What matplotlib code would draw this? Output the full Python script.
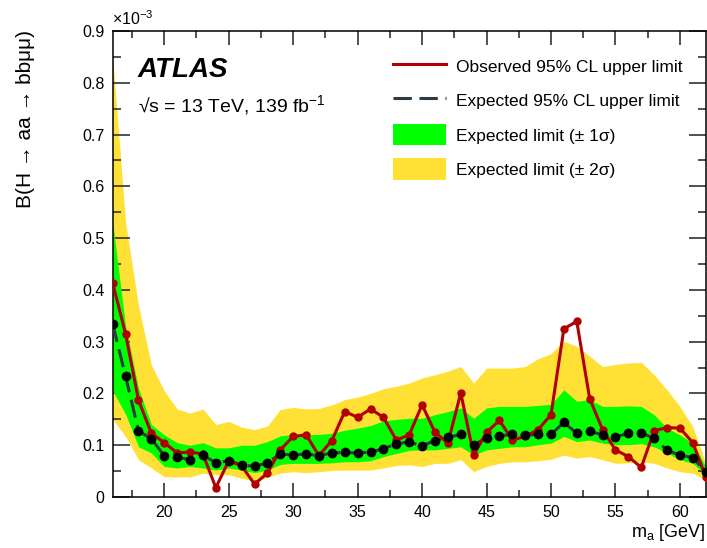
import numpy as np
import matplotlib
matplotlib.use('Agg')
import matplotlib.pyplot as plt
from matplotlib import ticker
from matplotlib.lines import Line2D
from matplotlib.patches import Patch

plt.rcParams['font.family'] = ['Liberation Sans', 'DejaVu Sans']
plt.rcParams['mathtext.fontset'] = 'custom'
plt.rcParams['mathtext.rm'] = 'Liberation Sans'
plt.rcParams['mathtext.it'] = 'Liberation Sans:italic'
plt.rcParams['mathtext.bf'] = 'Liberation Sans:bold'

# m_a [GeV], limits in units of 1e-3
mass = np.arange(16, 63)
obs = [0.413, 0.315, 0.187, 0.123, 0.105, 0.085, 0.087, 0.083, 0.018, 0.070,
       0.060, 0.025, 0.046, 0.091, 0.117, 0.120, 0.080, 0.109, 0.165, 0.154,
       0.170, 0.154, 0.110, 0.120, 0.178, 0.125, 0.104, 0.201, 0.081, 0.125,
       0.148, 0.110, 0.117, 0.130, 0.159, 0.325, 0.339, 0.190, 0.130, 0.091,
       0.078, 0.057, 0.128, 0.134, 0.133, 0.105, 0.039]
exp = [0.334, 0.233, 0.128, 0.112, 0.080, 0.077, 0.072, 0.081, 0.066, 0.070,
       0.062, 0.059, 0.066, 0.083, 0.081, 0.083, 0.080, 0.085, 0.086, 0.085,
       0.087, 0.093, 0.103, 0.106, 0.099, 0.109, 0.115, 0.121, 0.101, 0.114,
       0.118, 0.121, 0.119, 0.121, 0.121, 0.144, 0.123, 0.127, 0.120, 0.116,
       0.123, 0.123, 0.114, 0.090, 0.081, 0.076, 0.049]
up1 = [0.53, 0.33, 0.21, 0.14, 0.12, 0.105, 0.100, 0.105, 0.095, 0.095,
       0.100, 0.100, 0.107, 0.118, 0.121, 0.120, 0.121, 0.123, 0.129, 0.133,
       0.138, 0.147, 0.150, 0.152, 0.152, 0.159, 0.165, 0.172, 0.152, 0.172,
       0.175, 0.175, 0.175, 0.177, 0.179, 0.207, 0.185, 0.188, 0.175, 0.175,
       0.176, 0.175, 0.159, 0.133, 0.120, 0.104, 0.059]
dn1 = [0.205, 0.16, 0.097, 0.085, 0.059, 0.056, 0.059, 0.056, 0.052, 0.056,
       0.052, 0.047, 0.052, 0.063, 0.065, 0.065, 0.065, 0.066, 0.068, 0.068,
       0.070, 0.078, 0.084, 0.090, 0.091, 0.091, 0.094, 0.097, 0.081, 0.091,
       0.094, 0.097, 0.097, 0.101, 0.104, 0.117, 0.107, 0.110, 0.104, 0.101,
       0.101, 0.103, 0.097, 0.085, 0.072, 0.065, 0.043]
up2 = [0.85, 0.53, 0.37, 0.255, 0.205, 0.17, 0.162, 0.17, 0.14, 0.146,
       0.135, 0.130, 0.137, 0.169, 0.173, 0.170, 0.171, 0.178, 0.188, 0.193,
       0.200, 0.209, 0.214, 0.220, 0.230, 0.236, 0.243, 0.252, 0.220, 0.249,
       0.249, 0.249, 0.252, 0.267, 0.277, 0.301, 0.291, 0.272, 0.252, 0.256,
       0.259, 0.260, 0.236, 0.207, 0.175, 0.136, 0.065]
dn2 = [0.15, 0.117, 0.072, 0.056, 0.039, 0.039, 0.039, 0.046, 0.043, 0.043,
       0.036, 0.031, 0.038, 0.046, 0.049, 0.047, 0.049, 0.051, 0.052, 0.052,
       0.052, 0.056, 0.061, 0.062, 0.059, 0.065, 0.065, 0.072, 0.049, 0.059,
       0.065, 0.068, 0.068, 0.070, 0.073, 0.081, 0.075, 0.078, 0.072, 0.065,
       0.066, 0.068, 0.065, 0.056, 0.049, 0.046, 0.033]

W, H = 707., 548.
fig = plt.figure(figsize=(W/100, H/100), dpi=100)
ax = fig.add_axes([112.7/W, 51/H, 593/W, 466/H])

yellow = '#FFE135'
green = '#00FF00'
red = '#B00000'
slate = '#2E3B42'

ax.fill_between(mass, dn2, up2, color=yellow, lw=0, zorder=1)
ax.fill_between(mass, dn1, up1, color=green, lw=0, zorder=2)
ax.plot(mass, exp, color=slate, lw=2.2, dashes=(6, 2.5), zorder=3)
ax.plot(mass, obs, color=red, lw=2.2, zorder=4)
ax.plot(mass, obs, 'o', color=red, ms=5.0, zorder=5)
ax.plot(mass, exp, 'o', color='black', ms=6.0, zorder=6)

ax.set_xlim(16, 62)
ax.set_ylim(0, 0.9)
ax.xaxis.set_major_locator(ticker.MultipleLocator(5))
ax.xaxis.set_minor_locator(ticker.MultipleLocator(2.5))
ax.yaxis.set_major_locator(ticker.MultipleLocator(0.1))
ax.yaxis.set_minor_locator(ticker.MultipleLocator(0.05))
ax.yaxis.set_major_formatter(ticker.FuncFormatter(lambda v, p: '0' if abs(v) < 1e-9 else '%.1f' % v))
ax.xaxis.set_major_formatter(ticker.FuncFormatter(lambda v, p: '%d' % v))
ax.tick_params(which='both', direction='in', top=True, right=True, color='#222222', width=1.1)
ax.tick_params(axis='x', which='major', length=10, pad=5.5, labelsize=11.5)
ax.tick_params(axis='x', which='minor', length=5)
ax.tick_params(axis='y', which='major', length=12, pad=6, labelsize=11.5)
ax.tick_params(axis='y', which='minor', length=6)
for s in ax.spines.values():
    s.set_linewidth(1.1)

fig.text(112/W, 1-25/H, r'$\times$10$^{-3}$', fontsize=11.5, ha='left', va='baseline')
fig.text(705/W, 1-537/H, r'm$_{\mathrm{a}}$ [GeV]', fontsize=13, ha='right', va='baseline')
fig.text(26/W, 1-30/H, 'B(H \u2192 aa \u2192 bb\u03bc\u03bc)', fontsize=15, rotation=90,
         ha='center', va='top')

fig.text(138/W, 1-76.7/H, 'ATLAS', fontsize=20, fontweight='bold', fontstyle='italic',
         ha='left', va='baseline')
fig.text(138/W, 1-111.7/H, '\u221as = 13 TeV, 139 fb$^{-1}$', fontsize=14, ha='left', va='baseline')

handles = [Line2D([], [], color=red, lw=2.2),
           Line2D([], [], color=slate, lw=2.2, dashes=(6, 2.5)),
           Patch(facecolor=green, edgecolor='none'),
           Patch(facecolor=yellow, edgecolor='none')]
labels = ['Observed 95% CL upper limit', 'Expected 95% CL upper limit',
          'Expected limit (\u00b1 1\u03c3)', 'Expected limit (\u00b1 2\u03c3)']
fs = 12.5
fpx = fs/0.72
ax.legend(handles, labels, loc='upper left', bbox_to_anchor=(393/W, 1-56/H),
          bbox_transform=fig.transFigure, frameon=False, fontsize=fs,
          borderpad=0, borderaxespad=0, handlelength=53/fpx, handleheight=26/fpx,
          handletextpad=10.5/fpx, labelspacing=13/fpx)

fig.savefig('out.png', dpi=100)
plt.close('all')
